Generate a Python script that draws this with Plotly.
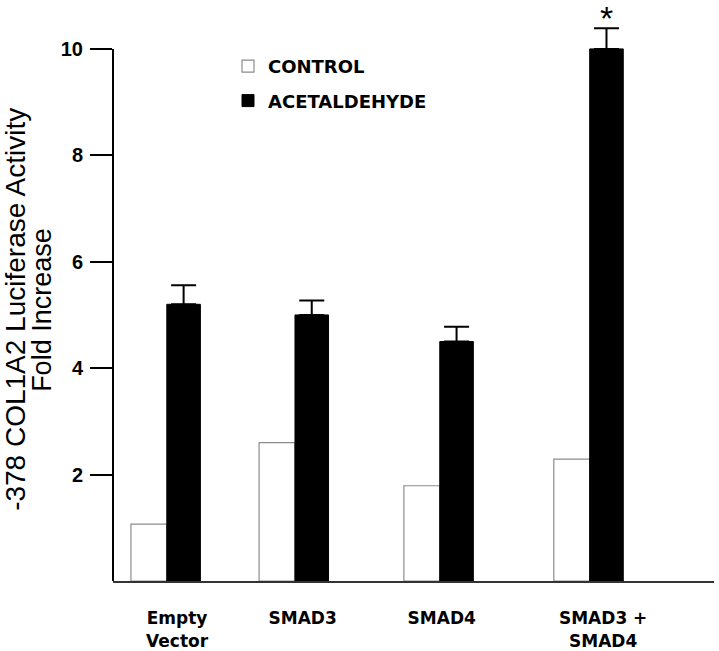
import plotly.graph_objects as go

# ---- data ----
categories = ["Empty<br>Vector", "SMAD3", "SMAD4", "SMAD3 +<br>SMAD4"]
control = [1.07, 2.6, 1.79, 2.29]
acetaldehyde = [5.2, 5.0, 4.5, 10.0]
acetaldehyde_err = [0.36, 0.27, 0.28, 0.39]
significant = [False, False, False, True]
y_ticks = [2, 4, 6, 8, 10]

# ---- layout helpers (positions / sizes) ----
group_x = [1.0, 2.0, 3.13, 4.30]
label_shift = [0.08, 0.06, 0.015, 0.105]
ctrl_w = 0.28
acet_w = 0.262

fig = go.Figure()
fig.add_trace(go.Bar(
    name="CONTROL", x=group_x, y=control, offset=-ctrl_w, width=ctrl_w,
    marker=dict(color="white", line=dict(color="#8c8c8c", width=1.2)),
    legendgroup="c"))
fig.add_trace(go.Bar(
    name="ACETALDEHYDE", x=group_x, y=acetaldehyde, offset=0, width=acet_w,
    marker=dict(color="black", line=dict(color="black", width=1)),
    error_y=dict(type="data", array=acetaldehyde_err, arrayminus=[0] * len(acetaldehyde_err),
                 symmetric=False, color="black", thickness=2, width=12.5),
    legendgroup="a"))

# y axis line from 0 to 10 only
fig.add_shape(type="line", xref="paper", x0=0, x1=0, yref="y", y0=0, y1=max(y_ticks),
              line=dict(color="black", width=2))

# significance asterisks
for gx, a, e, s in zip(group_x, acetaldehyde, acetaldehyde_err, significant):
    if s:
        fig.add_annotation(x=gx + acet_w / 2, y=a + e, xref="x", yref="y", text="*",
                           showarrow=False, yanchor="bottom", yshift=-11,
                           font=dict(family="Liberation Sans", size=34, color="black"))

# y-axis title, two lines
fig.add_annotation(x=(16 - 113) / 601, y=0.474, xref="paper", yref="paper",
                   text="-378 COL1A2 Luciferase Activity", textangle=-90, showarrow=False,
                   xanchor="center", yanchor="middle",
                   font=dict(family="Liberation Sans", size=28, color="black"))
fig.add_annotation(x=(42 - 113) / 601, y=0.474, xref="paper", yref="paper",
                   text="Fold Increase", textangle=-90, showarrow=False,
                   xanchor="center", yanchor="middle",
                   font=dict(family="Liberation Sans", size=27, color="black"))

fig.update_layout(
    width=719, height=651,
    margin=dict(l=113, r=5, t=9, b=70),
    plot_bgcolor="white", paper_bgcolor="white",
    barmode="overlay",
    showlegend=True,
    legend=dict(x=(228 - 113) / 601, y=(581 - 48) / 572, xanchor="left", yanchor="top",
                font=dict(family="DejaVu Sans", size=18, color="black", weight="bold"),
                traceorder="grouped", tracegroupgap=8, bgcolor="rgba(0,0,0,0)"),
    xaxis=dict(range=[0.58, 5.27], tickvals=[g + s for g, s in zip(group_x, label_shift)],
               ticktext=categories, showline=True, linecolor="#333333", linewidth=2,
               ticks="", showgrid=False, zeroline=False, automargin=False,
               tickfont=dict(family="DejaVu Sans", size=17, color="black", weight="bold"),
               ticklabelstandoff=21),
    yaxis=dict(range=[0, 10.75], tickvals=y_ticks, ticks="outside", ticklen=22,
               tickwidth=2, tickcolor="black", showline=False, showgrid=False,
               zeroline=False, automargin=False,
               tickfont=dict(family="Liberation Sans", size=20, color="black", weight="bold"),
               ticklabelstandoff=3),
)

fig.write_html("out.html", config={"displayModeBar": False},
               post_script="document.body.style.margin='0';document.body.style.overflow='hidden';")
